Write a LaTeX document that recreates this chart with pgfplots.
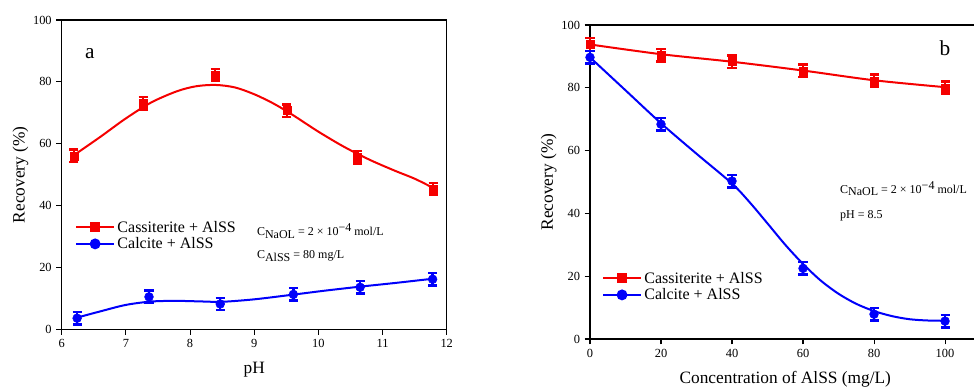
\documentclass[border=0pt]{standalone}
\usepackage{fontspec}
\setmainfont{Liberation Serif}
\usepackage{pgfplots}
\pgfplotsset{compat=1.18}
\definecolor{myred}{RGB}{245,0,0}
\definecolor{myblue}{RGB}{0,0,250}
\pgfplotsset{
 myaxis/.style={scale only axis, clip=false,
   axis line style={line width=0.8pt},
   tick align=outside, xtick pos=bottom, ytick pos=left,
   major tick length=4pt, tick style={line width=0.8pt, black},
   ticklabel style={font=\fontsize{9.3}{11}\selectfont},
   /pgf/number format/assume math mode=true,
   ymin=0, ymax=100, ytick={0,20,...,100},
   every axis y label/.style={at={(rel axis cs:0,0.5)}, xshift=-31pt, rotate=90, anchor=center, font=\fontsize{13}{15}\selectfont},
   every axis x label/.style={at={(rel axis cs:0.5,0)}, yshift=-30.5pt, anchor=center, font=\fontsize{13}{15}\selectfont},
   legend style={draw=none, fill=none, font=\fontsize{12}{14}\selectfont, row sep=-1.5pt, anchor=north west, inner sep=0pt},
   legend cell align=left,
   legend image code/.code={\draw[mark repeat=2,mark phase=2,##1] plot coordinates {(0pt,0pt) (14pt,0pt) (28pt,0pt)};},
 },
 errpts/.style={only marks, forget plot, error bars/.cd, y dir=both, y explicit,
   error bar style={line width=1.8pt, color=#1},
   error mark options={rotate=90, mark size=3.4pt, line width=1.8pt, color=#1}},
 redc/.style={myred, line width=1.5pt},
 bluec/.style={myblue, line width=1.5pt},
}
\begin{document}
\begin{tikzpicture}
% ---------- panel a ----------
\begin{axis}[myaxis, at={(46.3pt,45.5pt)}, anchor=south west,
  width=288.75pt, height=232pt,
  xmin=6, xmax=12, xtick={6,7,...,12},
  xlabel={pH}, ylabel={Recovery (\%)},
  legend style={at={(rel axis cs:0.035,0.36)}}]
\addplot[redc, smooth, forget plot] coordinates {(6.19,56.3) (6.6,62.2) (7.0,68.2) (7.4,73.4) (7.8,77.0) (8.1,78.6) (8.4,79.0) (8.7,78.2) (9.0,76.0) (9.3,73.0) (9.6,69.3) (10.0,63.9) (10.4,59.0) (10.8,54.8) (11.2,51.2) (11.5,48.7) (11.8,45.6)};
\addplot[bluec, smooth, forget plot] coordinates {(6.24,3.8) (6.6,5.8) (7.0,7.9) (7.4,9.0) (7.8,9.2) (8.2,9.0) (8.5,8.9) (9.0,9.7) (9.6,11.2) (10.1,12.5) (10.65,13.8) (11.2,15.0) (11.8,16.4)};
\addplot[myred, mark=square*, mark size=3pt, errpts=myred] table[y error index=2] {
x y e
6.19 56.1 2
7.27 73.1 2
8.39 82.2 2
9.51 70.7 2
10.61 55.6 2
11.79 45.4 2
};
\addplot[myblue, mark=*, mark size=3.3pt, errpts=myblue] table[y error index=2] {
x y e
6.24 3.6 2
7.36 10.5 2
8.47 8.2 2
9.61 11.3 2
10.65 13.6 2
11.78 16.2 2
};
\addlegendimage{myred, line width=1.5pt, mark=square*, mark size=3pt}
\addlegendentry{Cassiterite + AlSS}
\addlegendimage{myblue, line width=1.5pt, mark=*, mark size=3.3pt}
\addlegendentry{Calcite + AlSS}
\node[anchor=west, font=\fontsize{9}{11}\selectfont, inner sep=0pt] at (axis cs:9.04,31.8) {C\raisebox{-0.45ex}{NaOL} = 2 × 10\raisebox{0.7ex}{−4} mol/L};
\node[anchor=west, font=\fontsize{9}{11}\selectfont, inner sep=0pt] at (axis cs:9.04,23.7) {C\raisebox{-0.45ex}{AlSS} = 80 mg/L};
\node[font=\fontsize{16}{18}\selectfont] at (axis cs:6.44,89.3) {a};
\end{axis}
% ---------- panel b ----------
\begin{axis}[myaxis, at={(442.5pt,38.25pt)}, anchor=south west,
  width=292.9pt, height=235.5pt,
  xmin=0, xmax=110, xtick={0,20,...,100},
  xlabel={Concentration of AlSS (mg/L)}, ylabel={Recovery (\%)},
  legend style={at={(rel axis cs:0.031,0.223)}}]
\addplot[redc, smooth, forget plot] coordinates {(0,93.8) (20,90.7) (40,88.3) (60,85.5) (80,82.4) (100,80.2)};
\addplot[bluec, smooth, forget plot] coordinates {(0,89.7) (10,79.2) (20,68.7) (30,59.0) (40,49.5) (45,43.5) (50,36.8) (55,30.0) (60,23.9) (65,18.6) (70,14.4) (75,11.2) (80,8.9) (85,7.3) (90,6.3) (95,5.9) (100,5.8)};
\addplot[myred, mark=square*, mark size=3pt, errpts=myred] table[y error index=2] {
x y e
0 93.8 2
20 90.4 2
40 88.3 2
60 85.4 2
80 82.2 2
100 80.0 2
};
\addplot[myblue, mark=*, mark size=3.3pt, errpts=myblue] table[y error index=2] {
x y e
0 89.7 2
20 68.4 2
40 50.3 2
60 22.5 2
80 7.9 2
100 5.7 2
};
\addlegendimage{myred, line width=1.5pt, mark=square*, mark size=3pt}
\addlegendentry{Cassiterite + AlSS}
\addlegendimage{myblue, line width=1.5pt, mark=*, mark size=3.3pt}
\addlegendentry{Calcite + AlSS}
\node[anchor=west, font=\fontsize{9}{11}\selectfont, inner sep=0pt] at (axis cs:70.4,47.8) {C\raisebox{-0.45ex}{NaOL} = 2 × 10\raisebox{0.7ex}{−4} mol/L};
\node[anchor=west, font=\fontsize{9}{11}\selectfont, inner sep=0pt] at (axis cs:70.4,39.4) {pH = 8.5};
\node[font=\fontsize{16}{18}\selectfont] at (axis cs:100,92.7) {b};
\end{axis}
\pgfresetboundingbox
\path[use as bounding box] (0,0) rectangle (730.5pt,292.5pt);
\end{tikzpicture}
\end{document}
